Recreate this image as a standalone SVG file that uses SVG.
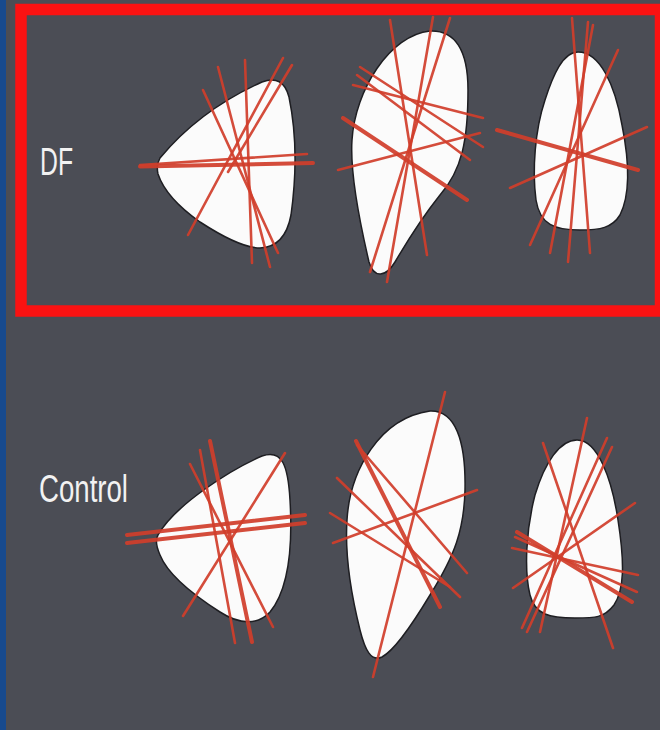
<svg xmlns="http://www.w3.org/2000/svg" width="660" height="730" viewBox="0 0 660 730">
<style>
.blob{fill:#fbfbfb;stroke:#1e1e22;stroke-width:1.5}
.r line{stroke:#d13e2b;stroke-width:2.6;stroke-linecap:round;opacity:0.92}
.r line.t{stroke-width:4}
.lbl{fill:#f2f2f2;font-family:"Liberation Sans","DejaVu Sans",sans-serif;font-size:38px}
</style>
<rect x="0" y="0" width="660" height="730" fill="#4b4d55"/>
<rect x="0" y="0" width="6" height="730" fill="#174a8e"/>
<rect x="21" y="9.5" width="639.5" height="301.5" fill="none" stroke="#fa1212" stroke-width="11.5"/>
<text class="lbl" x="40" y="175" textLength="33" lengthAdjust="spacingAndGlyphs">DF</text>
<text class="lbl" x="39" y="502" textLength="89" lengthAdjust="spacingAndGlyphs">Control</text>

<g id="df1">
<path class="blob" d="M160,158 Q200,110 262,82 Q283,74 289,97 Q300,150 291,215 Q285,247 260,248 Q240,248 200,222 Q166,198 158,174 Q156,165 160,158 Z"/>
<g class="r">
<line class="t" x1="140" y1="166.5" x2="313" y2="163"/>
<line x1="140" y1="165" x2="307" y2="154"/>
<line x1="218" y1="67" x2="270" y2="267"/>
<line x1="245" y1="60" x2="252" y2="263"/>
<line x1="203" y1="90" x2="278" y2="253"/>
<line x1="283" y1="58" x2="188" y2="235"/>
<line x1="292" y1="65" x2="228" y2="172"/>
</g>
</g>

<g id="df2">
<path class="blob" d="M430,31 C455,30 468,50 468,90 C468,140 462,170 440,195 C420,220 405,245 395,262 C386,277 374,279 369,262 C358,215 350,170 352,140 C355,90 390,35 430,31 Z"/>
<g class="r">
<line x1="390" y1="20" x2="427" y2="255"/>
<line x1="433" y1="17" x2="387" y2="282"/>
<line x1="450" y1="18" x2="370" y2="272"/>
<line x1="360" y1="67" x2="483" y2="147"/>
<line x1="353" y1="85" x2="483" y2="118"/>
<line x1="357" y1="75" x2="470" y2="160"/>
<line class="t" x1="343" y1="118" x2="467" y2="200"/>
<line x1="338" y1="170" x2="480" y2="133"/>
</g>
</g>

<g id="df3">
<path class="blob" d="M578,52 C600,52 615,85 622,125 C630,165 630,195 620,215 C612,228 600,230 580,230 C555,230 540,225 536,200 C532,170 535,130 545,100 C553,75 563,52 578,52 Z"/>
<g class="r">
<line x1="572" y1="18" x2="590" y2="253"/>
<line x1="588" y1="22" x2="568" y2="262"/>
<line x1="593" y1="25" x2="550" y2="253"/>
<line x1="618" y1="50" x2="530" y2="245"/>
<line class="t" x1="497" y1="130" x2="638" y2="170"/>
<line x1="647" y1="127" x2="510" y2="188"/>
</g>
</g>

<g id="c1">
<path class="blob" d="M158,535 C175,505 230,470 262,456 C282,449 288,465 290,500 C293,550 288,590 270,612 C258,625 240,625 220,612 C195,596 168,575 160,555 C156,546 155,540 158,535 Z"/>
<g class="r">
<line class="t" x1="127" y1="535" x2="305" y2="515"/>
<line class="t" x1="127" y1="543" x2="305" y2="523"/>
<line class="t" x1="210" y1="441" x2="252" y2="642"/>
<line x1="200" y1="450" x2="235" y2="643"/>
<line x1="190" y1="464" x2="273" y2="627"/>
<line x1="285" y1="453" x2="183" y2="616"/>
</g>
</g>

<g id="c2">
<path class="blob" d="M430,411 C455,410 466,440 465,490 C464,530 455,555 430,595 C412,625 395,650 382,657 C371,662 365,650 360,630 C350,590 345,550 347,520 C350,470 380,418 430,411 Z"/>
<g class="r">
<line x1="445" y1="392" x2="373" y2="677"/>
<line class="t" x1="356" y1="441" x2="440" y2="607"/>
<line x1="357" y1="445" x2="467" y2="573"/>
<line x1="337" y1="478" x2="460" y2="597"/>
<line x1="330" y1="513" x2="450" y2="587"/>
<line x1="333" y1="543" x2="477" y2="490"/>
</g>
</g>

<g id="c3">
<path class="blob" d="M577,440 C598,440 612,480 618,520 C625,565 624,590 614,605 C604,618 595,618 575,618 C550,618 535,615 530,595 C524,570 526,530 535,495 C545,462 560,440 577,440 Z"/>
<g class="r">
<line x1="587" y1="418" x2="540" y2="632"/>
<line x1="607" y1="438" x2="522" y2="628"/>
<line x1="612" y1="447" x2="527" y2="632"/>
<line x1="543" y1="443" x2="613" y2="648"/>
<line x1="635" y1="503" x2="513" y2="588"/>
<line class="t" x1="517" y1="532" x2="632" y2="602"/>
<line x1="512" y1="548" x2="638" y2="575"/>
<line x1="515" y1="537" x2="637" y2="592"/>
</g>
</g>
</svg>
